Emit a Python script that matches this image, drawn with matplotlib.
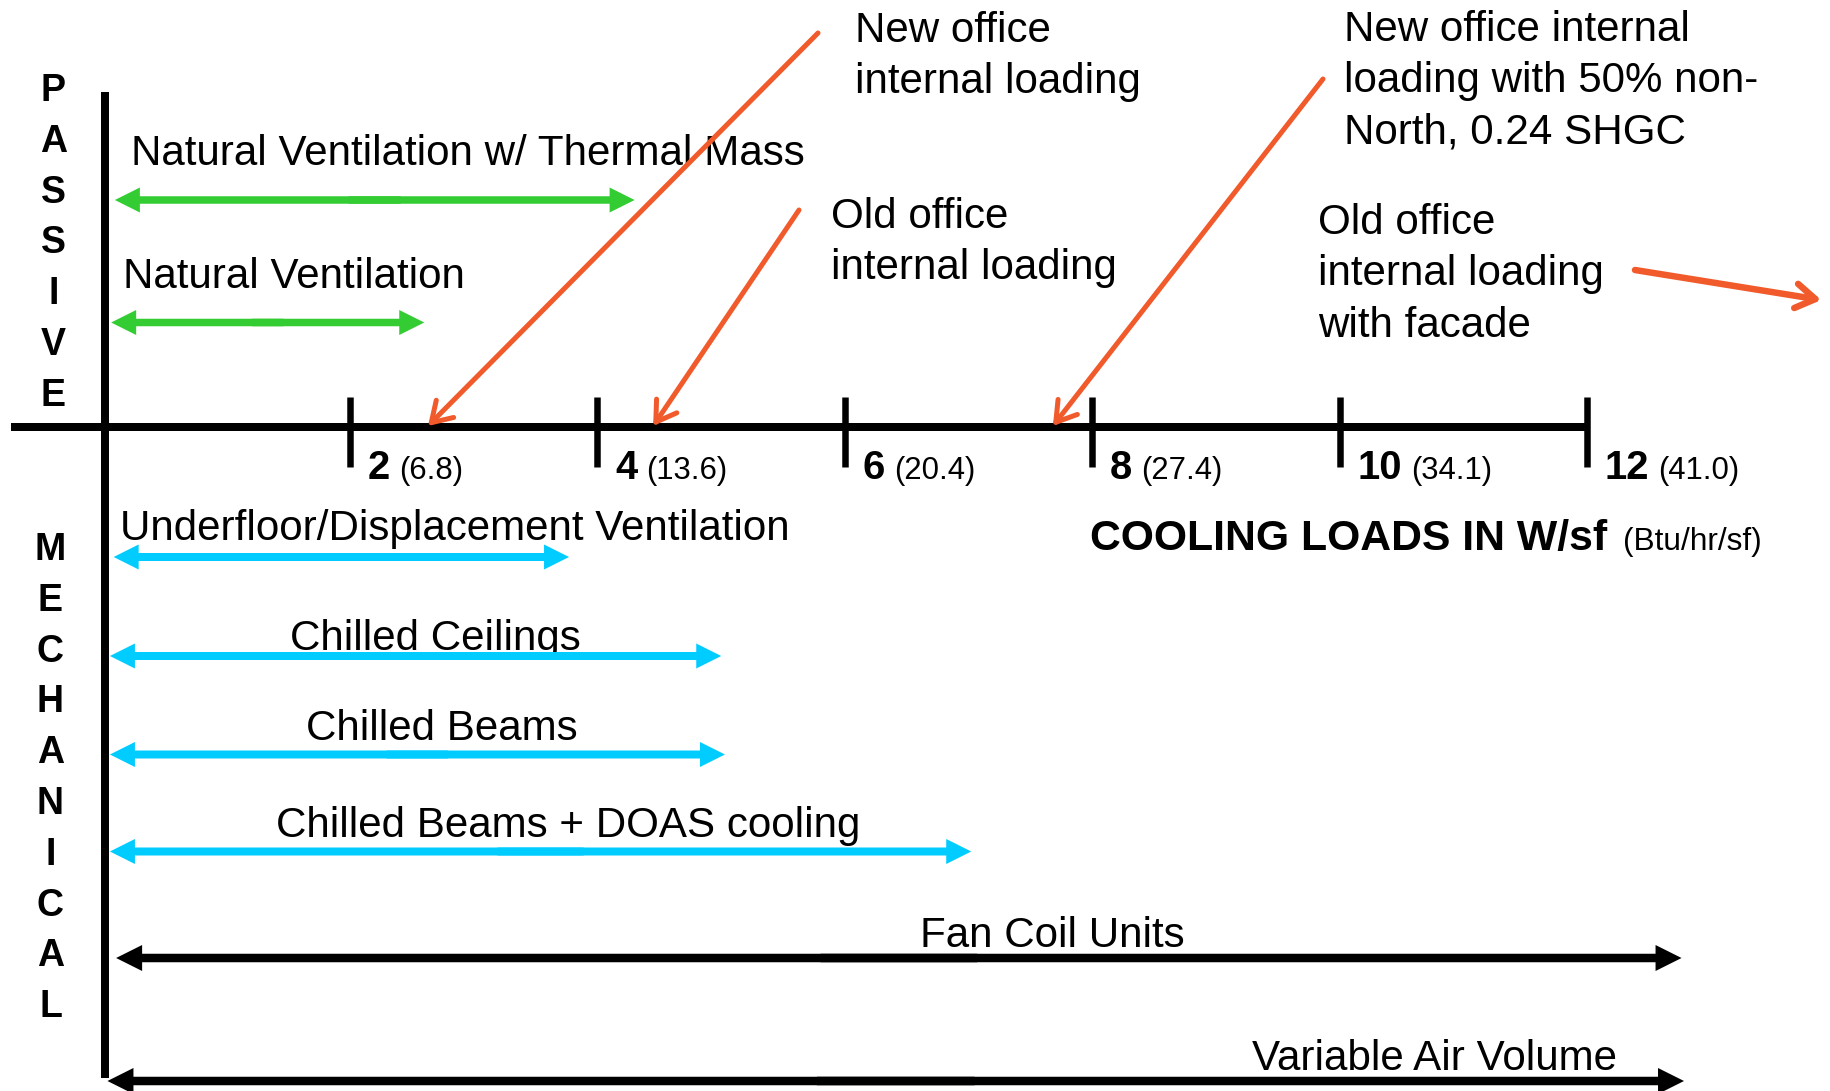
import matplotlib
matplotlib.use("Agg")
import matplotlib.pyplot as plt
from matplotlib.patches import FancyArrowPatch, ArrowStyle
from matplotlib.transforms import offset_copy

plt.rcParams["font.family"] = ["Liberation Sans", "DejaVu Sans"]

# ---- data ---------------------------------------------------------------
loads = [2, 4, 6, 8, 10, 12]                      # W/sf
btu = ["6.8", "13.6", "20.4", "27.4", "34.1", "41.0"]  # Btu/hr/sf

passive_names = ["Natural Ventilation w/ Thermal Mass", "Natural Ventilation"]
passive_lo = [0.1, 0.07]
passive_hi = [4.3, 2.6]

mech_names = ["Underfloor/Displacement Ventilation", "Chilled Ceilings",
              "Chilled Beams", "Chilled Beams + DOAS cooling",
              "Fan Coil Units", "Variable Air Volume"]
mech_lo = [0.09, 0.06, 0.06, 0.06, 0.11, 0.04]
mech_hi = [3.77, 5.0, 5.03, 7.02, 12.76, 12.78]

office_names = ["New office\ninternal loading",
                "Old office\ninternal loading",
                "New office internal\nloading with 50% non-\nNorth, 0.24 SHGC",
                "Old office\ninternal loading\nwith facade"]
office_load = [2.63, 4.45, 7.68, 13.89]

# ---- layout (pixels) ----------------------------------------------------
W, H, DPI = 1831, 1091, 100
X0, UNIT = 102.5, 123.75          # pixel of zero load, pixels per W/sf
PT = 72 / DPI                      # points per pixel
AXIS_Y = 427

GREEN, CYAN, ORANGE = "#33CC33", "#00CCFF", "#F15A2B"
REG, BOLD_TICK, SMALL = 30.3, 28.8, 22.4


def X(p):
    return (p - X0) / UNIT


fig = plt.figure(figsize=(W / DPI, H / DPI), dpi=DPI)
ax = fig.add_axes([0, 0, 1, 1])
ax.set_xlim(X(0), X(W))
ax.set_ylim(H, 0)
ax.axis("off")


def span(lo, hi, y, color, shaft, head_w, head_l):
    style = ArrowStyle.Simple(head_length=head_l * PT, head_width=head_w * PT,
                              tail_width=shaft * PT)
    mid, pad = (lo + hi) / 2, 0.05 * (hi - lo)
    # two single-headed halves overlapping in the middle
    for a, b in ((mid - pad, hi), (mid + pad, lo)):
        ax.add_patch(FancyArrowPatch((a, y), (b, y), arrowstyle=style,
                                     mutation_scale=1, lw=0, color=color,
                                     shrinkA=0, shrinkB=0, zorder=3))


# axes
ax.plot([X(11), loads[-1]], [AXIS_Y, AXIS_Y], color="black", lw=8 * PT,
        solid_capstyle="butt", zorder=2)
ax.plot([X(105)] * 2, [92, 1078], color="black", lw=8 * PT,
        solid_capstyle="butt", zorder=2)
ax.vlines(loads, 397, 467, color="black", lw=6.5 * PT, zorder=2)

tick_trans = offset_copy(ax.transData, fig=fig, x=17.5, y=0, units="dots")
for v, b in zip(loads, btu):
    t = ax.text(v, 479, str(v), transform=tick_trans, fontsize=BOLD_TICK,
                fontweight="bold", ha="left", va="baseline")
    ax.annotate(f"({b})", xy=(1, 479), xycoords=(t, "data"),
                xytext=(9, 0), textcoords="offset pixels",
                fontsize=SMALL, ha="left", va="baseline")

t = ax.text(X(1090), 550, "COOLING LOADS IN W/sf", fontsize=30.8,
            fontweight="bold", ha="left", va="baseline")
ax.annotate("(Btu/hr/sf)", xy=(1, 550), xycoords=(t, "data"),
            xytext=(16, 0), textcoords="offset pixels",
            fontsize=22.8, ha="left", va="baseline")

# side captions
for i, ch in enumerate("PASSIVE"):
    ax.text(X(53.5), 101 + i * 50.8, ch, fontsize=27, fontweight="bold",
            ha="center", va="baseline")
for i, ch in enumerate("MECHANICAL"):
    ax.text(X(50.5), 560 + i * 50.8, ch, fontsize=27, fontweight="bold",
            ha="center", va="baseline")

# passive strategies
passive_rows = [200, 322.5]
passive_text = [(131, 165), (123, 288)]
for name, lo, hi, y, (tx, ty) in zip(passive_names, passive_lo, passive_hi,
                                     passive_rows, passive_text):
    ax.text(X(tx), ty, name, fontsize=REG, ha="left", va="baseline", zorder=1)
    span(lo, hi, y, GREEN, 7.5, 25, 25)

# mechanical systems
mech_rows = [557, 656, 754.5, 851.5, 958, 1081]
mech_text = [(120, 540, "left"), (435, 650, "center"), (441.5, 740, "center"),
             (568, 836.5, "center"), (1052.5, 947, "center"),
             (1435, 1070, "center")]
mech_color = [CYAN, CYAN, CYAN, CYAN, "black", "black"]
for name, lo, hi, y, (tx, ty, ha), c in zip(mech_names, mech_lo, mech_hi,
                                            mech_rows, mech_text, mech_color):
    ax.text(X(tx), ty, name, fontsize=REG, ha=ha, va="baseline", zorder=1)
    if c == "black":
        span(lo, hi, y, c, 8.5, 26, 26)
    else:
        span(lo, hi, y, c, 8, 25, 25)

# office loading call-outs
office_text = [(855, 41.7), (831, 228), (1344, 41), (1318, 234)]
office_from = [(818, 33), (799, 210), (1323, 79), (1635, 270)]
office_tip_y = [AXIS_Y - 1, AXIS_Y - 1, AXIS_Y - 1, 300]
office_lw = [5, 5, 5, 6.5]
for name, load, (tx, ty), (fx, fy), ty2, lw in zip(office_names, office_load,
                                                   office_text, office_from,
                                                   office_tip_y, office_lw):
    for k, line in enumerate(name.split("\n")):
        ax.text(X(tx), ty + k * 51.3, line, fontsize=REG, ha="left",
                va="baseline", zorder=1)
    ax.add_patch(FancyArrowPatch((X(fx), fy), (load, ty2),
                                 arrowstyle=ArrowStyle("->", head_length=14,
                                                       head_width=8.8),
                                 mutation_scale=1, lw=lw * PT, color=ORANGE,
                                 capstyle="round", joinstyle="round",
                                 shrinkA=0, shrinkB=0, zorder=5))

fig.savefig("out.png", dpi=DPI)
